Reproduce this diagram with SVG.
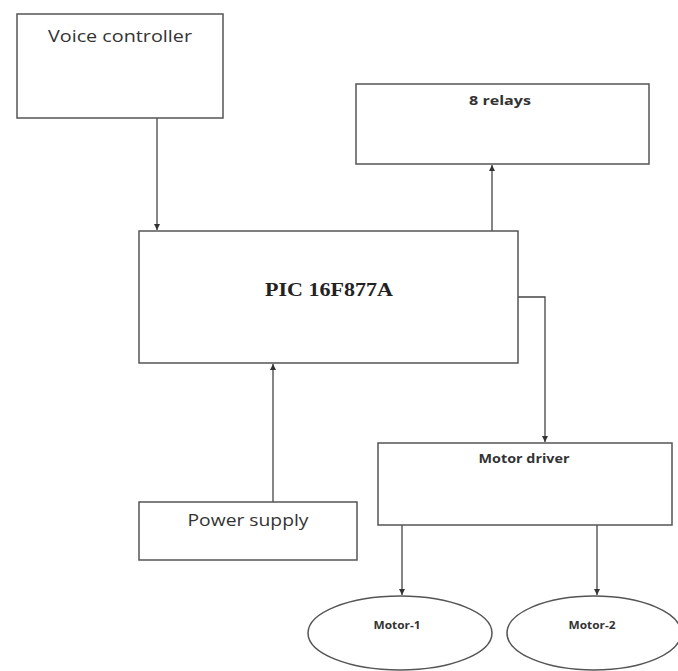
<svg xmlns="http://www.w3.org/2000/svg" width="678" height="671" viewBox="0 0 678 671">
<style>
.box{fill:#fff;stroke:#555;stroke-width:1.5}
.ln{fill:none;stroke:#444;stroke-width:1.3}
.s{font-family:"Open Sans","Liberation Sans",sans-serif;fill:#333;text-anchor:middle}
.b{font-family:"Liberation Serif",serif;font-weight:bold;fill:#222;text-anchor:middle}
</style>
<defs>
<marker id="ah" markerWidth="8" markerHeight="8" refX="6" refY="3" orient="auto" markerUnits="userSpaceOnUse">
<path d="M0,0 L6,3 L0,6 z" fill="#333"/>
</marker>
</defs>
<rect width="678" height="671" fill="#fff"/>
<g id="connectors">
<line class="ln" x1="157" y1="118" x2="157" y2="230" marker-end="url(#ah)"/>
<line class="ln" x1="492" y1="231" x2="492" y2="165" marker-end="url(#ah)"/>
<polyline class="ln" points="518,297 545,297 545,442" marker-end="url(#ah)"/>
<line class="ln" x1="273" y1="502" x2="273" y2="364" marker-end="url(#ah)"/>
<line class="ln" x1="402" y1="525" x2="402" y2="595" marker-end="url(#ah)"/>
<line class="ln" x1="597" y1="525" x2="597" y2="595" marker-end="url(#ah)"/>
</g>
<g id="voice">
<rect class="box" x="17" y="14" width="206" height="104"/>
<text class="s" x="120" y="42" font-size="17" textLength="144" lengthAdjust="spacingAndGlyphs">Voice controller</text>
</g>
<g id="relays">
<rect class="box" x="356" y="84" width="293" height="80"/>
<text class="s" x="500" y="105" font-size="12" font-weight="bold" textLength="62" lengthAdjust="spacingAndGlyphs">8  relays</text>
</g>
<g id="pic">
<rect class="box" x="139" y="231" width="379" height="132"/>
<text class="b" x="329" y="296" font-size="18" textLength="128" lengthAdjust="spacingAndGlyphs">PIC 16F877A</text>
</g>
<g id="driver">
<rect class="box" x="378" y="443" width="294" height="82"/>
<text class="s" x="524" y="463" font-size="12" font-weight="bold" textLength="91" lengthAdjust="spacingAndGlyphs">Motor driver</text>
</g>
<g id="power">
<rect class="box" x="139" y="502" width="218" height="58"/>
<text class="s" x="248" y="526" font-size="17" textLength="121" lengthAdjust="spacingAndGlyphs">Power supply</text>
</g>
<g id="motor1">
<ellipse class="box" cx="400" cy="633" rx="92" ry="37"/>
<text class="s" x="397" y="629" font-size="10" font-weight="bold" textLength="47" lengthAdjust="spacingAndGlyphs">Motor-1</text>
</g>
<g id="motor2">
<ellipse class="box" cx="594" cy="633" rx="87" ry="37"/>
<text class="s" x="592" y="629" font-size="10" font-weight="bold" textLength="47" lengthAdjust="spacingAndGlyphs">Motor-2</text>
</g>
</svg>
